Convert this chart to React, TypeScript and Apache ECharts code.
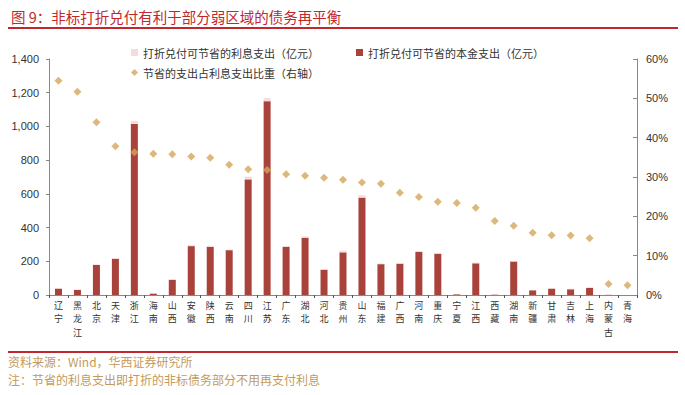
import React, { useEffect, useRef } from "react";
import * as echarts from "echarts";

const categories = ["辽宁","黑龙江","北京","天津","浙江","海南","山西","安徽","陕西","云南","四川","江苏","广东","湖北","河北","贵州","山东","福建","广西","河南","重庆","宁夏","江西","西藏","湖南","新疆","甘肃","吉林","上海","内蒙古","青海"];
const principal = [38,30,178,215,1015,8,90,290,286,266,686,1150,286,340,150,253,578,183,186,255,245,4,188,2,198,28,38,34,42,1,0];
const interest = [3,3,4,4,18,1,3,6,6,4,16,18,4,8,3,10,14,4,4,6,4,1,4,1,4,3,4,3,4,1,0];
const ratio = [54.5,51.7,43.9,37.8,36.3,35.9,35.8,35.2,34.9,33.1,32.0,31.8,30.7,30.3,29.8,29.3,28.6,28.3,26.0,24.9,23.7,23.4,22.2,18.8,17.6,15.8,15.2,15.1,14.4,2.8,2.5];
const leftTicks = { min: 0, max: 1400, interval: 200 };
const rightTicks = { min: 0, max: 60, interval: 10 };

const nameInterest = "打折兑付可节省的利息支出（亿元）";
const namePrincipal = "打折兑付可节省的本金支出（亿元）";
const nameRatio = "节省的支出占利息支出比重（右轴）";

const CJK = '"Noto Sans CJK SC", sans-serif';
const NUM = '"Liberation Sans", Arial, sans-serif';

export default function App() {
  const ref = useRef<HTMLDivElement>(null);
  useEffect(() => {
    if (!ref.current) return;
    const chart = echarts.init(ref.current, null, { renderer: "svg" });
    const legendText = { fontFamily: CJK, fontSize: 11, color: "#333" };
    chart.setOption({
      animation: false,
      backgroundColor: "#fff",
      title: {
        text: "图 9：非标打折兑付有利于部分弱区域的债务再平衡",
        left: 6,
        top: 4,
        textStyle: { fontFamily: CJK, fontSize: 14.5, fontWeight: "normal", color: "#c0282d" },
      },
      graphic: [
        { type: "line", shape: { x1: 8, y1: 28, x2: 678, y2: 28 }, style: { stroke: "#c0282d", lineWidth: 2 } },
        { type: "line", shape: { x1: 8, y1: 352, x2: 678, y2: 352 }, style: { stroke: "#c0282d", lineWidth: 2 } },
        { type: "text", left: 8, top: 355, style: { text: "资料来源：Wind，华西证券研究所", fontFamily: CJK, fontSize: 12, fill: "#c49a5a" } },
        { type: "text", left: 8, top: 373, style: { text: "注：节省的利息支出即打折的非标债务部分不用再支付利息", fontFamily: CJK, fontSize: 12, fill: "#c49a5a" } },
      ],
      legend: [
        { data: [nameInterest], left: 126, top: 42, itemWidth: 7, itemHeight: 7, textStyle: legendText, icon: "rect" },
        { data: [namePrincipal], left: 351, top: 42, itemWidth: 7, itemHeight: 7, textStyle: legendText, icon: "rect" },
        { data: [nameRatio], left: 126, top: 62, itemWidth: 7, itemHeight: 7, textStyle: legendText, icon: "diamond" },
      ],
      grid: { left: 49, right: 48, top: 59, bottom: 100 },
      xAxis: {
        type: "category",
        data: categories,
        axisLine: { lineStyle: { color: "#888" } },
        axisTick: { show: true, length: 3, lineStyle: { color: "#555" } },
        axisLabel: {
          interval: 0,
          margin: 4,
          fontFamily: CJK,
          fontSize: 9,
          lineHeight: 13.3,
          color: "#333",
          formatter: (v: string) => v.split("").join("\n"),
        },
      },
      yAxis: [
        {
          type: "value",
          ...leftTicks,
          axisLine: { show: true, lineStyle: { color: "#888" } },
          axisTick: { show: true, length: 3, lineStyle: { color: "#888" } },
          splitLine: { show: false },
          axisLabel: {
            margin: 10,
            fontFamily: NUM,
            fontSize: 11,
            color: "#333",
            formatter: (v: number) => v.toLocaleString("en-US"),
          },
        },
        {
          type: "value",
          ...rightTicks,
          axisLine: { show: true, lineStyle: { color: "#888" } },
          axisTick: { show: true, inside: true, length: 4, lineStyle: { color: "#888" } },
          splitLine: { show: false },
          axisLabel: {
            margin: 9,
            fontFamily: NUM,
            fontSize: 11,
            color: "#333",
            formatter: (v: number) => v + "%",
          },
        },
      ],
      series: [
        {
          name: namePrincipal,
          type: "bar",
          stack: "s",
          data: principal,
          barWidth: 7,
          itemStyle: { color: "#a8423a" },
        },
        {
          name: nameInterest,
          type: "bar",
          stack: "s",
          data: interest,
          barWidth: 7,
          itemStyle: { color: "#f5dcdc" },
        },
        {
          name: nameRatio,
          type: "scatter",
          yAxisIndex: 1,
          data: ratio,
          symbol: "diamond",
          symbolSize: 8,
          itemStyle: { color: "#d4a55a" },
        },
      ],
    });
    return () => chart.dispose();
  }, []);
  return <div ref={ref} style={{ width: 685, height: 395, position: "absolute", left: 0, top: 0 }} />;
}
